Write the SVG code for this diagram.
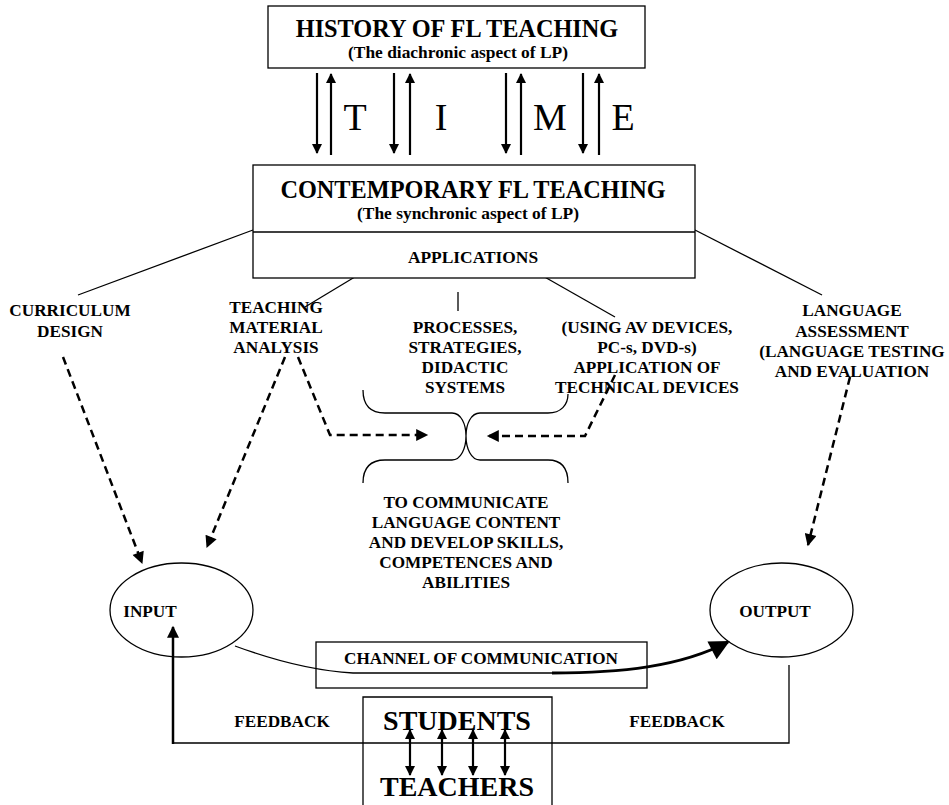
<svg xmlns="http://www.w3.org/2000/svg" width="949" height="805" viewBox="0 0 949 805">
  <style>
    .box { fill: #fff; stroke: #000; stroke-width: 1.3; }
    .line { fill: none; stroke: #000; stroke-width: 1.3; }
    .t { font-family: "Liberation Serif", "Times New Roman", serif; font-weight: bold; fill: #000; text-anchor: middle; }
    .big { font-size: 24.3px; }
    .sub { font-size: 17.4px; }
    .lab { font-size: 17.2px; }
    .huge { font-size: 28px; }
    .time { font-family: "Liberation Serif", "Times New Roman", serif; font-size: 38px; fill: #000; text-anchor: middle; }
    .arr { fill: none; stroke: #000; stroke-width: 2.2; }
    .dash { fill: none; stroke: #000; stroke-width: 2.5; stroke-dasharray: 8 5; }
  </style>
  <defs>
    <marker id="triD" viewBox="0 0 10 10" refX="9" refY="5" markerWidth="14" markerHeight="12" orient="auto" markerUnits="userSpaceOnUse">
      <path d="M0,0 L10,5 L0,10 z" fill="#000"/>
    </marker>
    <marker id="triBig" viewBox="0 0 10 10" refX="9" refY="5" markerWidth="24" markerHeight="20" orient="auto" markerUnits="userSpaceOnUse">
      <path d="M0,0 L10,5 L0,10 z" fill="#000"/>
    </marker>
    <marker id="triM" viewBox="0 0 10 10" refX="9" refY="5" markerWidth="10" markerHeight="10" orient="auto" markerUnits="userSpaceOnUse">
      <path d="M0,0 L10,5 L0,10 z" fill="#000"/>
    </marker>
  </defs>

  <rect width="949" height="805" fill="#fff"/>

  <!-- connectors -->
  <g id="connectors">
    <!-- time arrows between the two main boxes -->
    <g class="arr">
      <line x1="317" y1="73" x2="317" y2="153" marker-end="url(#triM)"/>
      <line x1="331" y1="155" x2="331" y2="74" marker-end="url(#triM)"/>
      <line x1="394" y1="73" x2="394" y2="153" marker-end="url(#triM)"/>
      <line x1="410" y1="155" x2="410" y2="74" marker-end="url(#triM)"/>
      <line x1="506" y1="73" x2="506" y2="153" marker-end="url(#triM)"/>
      <line x1="521" y1="155" x2="521" y2="74" marker-end="url(#triM)"/>
      <line x1="583" y1="73" x2="583" y2="153" marker-end="url(#triM)"/>
      <line x1="599" y1="155" x2="599" y2="74" marker-end="url(#triM)"/>
    </g>

    <!-- branches from the contemporary box -->
    <line class="line" x1="253" y1="230" x2="78" y2="295"/>
    <line class="line" x1="695" y1="230" x2="822" y2="295"/>
    <line class="line" x1="378" y1="263" x2="305" y2="307"/>
    <line class="line" x1="458" y1="292" x2="458" y2="311"/>
    <line class="line" x1="520" y1="263" x2="615" y2="317"/>

    <!-- facing braces -->
    <path class="line" d="M363,390 C363,405 370,413 385,413 L452,413 C461,413 466,424 466,436 C466,424 471,413 480,413 L548,413 C561,413 568,405 568,394"/>
    <path class="line" d="M363,483 C363,468 370,460 385,460 L452,460 C461,460 466,448 466,436 C466,448 471,460 480,460 L548,460 C561,460 568,468 568,483"/>

    <!-- dashed arrows -->
    <path class="dash" d="M298,357 L330,435 L427,435" marker-end="url(#triD)"/>
    <path class="dash" d="M615,375 L585,436 L488,436" marker-end="url(#triD)"/>
    <path class="dash" d="M63,357 L142,563" marker-end="url(#triD)"/>
    <path class="dash" d="M285,357 L207,547" marker-end="url(#triD)"/>
    <path class="dash" d="M850,377 L808,545" marker-end="url(#triD)"/>

    <!-- channel of communication: input to output -->
    <path class="line" d="M235,646 Q300,670 353,673 L552,673"/>
    <path fill="none" stroke="#000" stroke-width="3" d="M552,673 C620,673 680,667 728,642" marker-end="url(#triBig)"/>

    <!-- feedback loop -->
    <path class="line" d="M789,665 L789,743 L173,743"/>
    <line x1="173" y1="744" x2="173" y2="627" stroke="#000" stroke-width="2.5" marker-end="url(#triD)"/>

    <!-- students / teachers exchange -->
    <g class="arr">
      <line x1="410" y1="740" x2="410" y2="730" marker-end="url(#triM)"/>
      <line x1="410" y1="735" x2="410" y2="775" marker-end="url(#triM)"/>
      <line x1="442" y1="740" x2="442" y2="730" marker-end="url(#triM)"/>
      <line x1="442" y1="735" x2="442" y2="775" marker-end="url(#triM)"/>
      <line x1="473" y1="740" x2="473" y2="730" marker-end="url(#triM)"/>
      <line x1="473" y1="735" x2="473" y2="775" marker-end="url(#triM)"/>
      <line x1="505" y1="740" x2="505" y2="730" marker-end="url(#triM)"/>
      <line x1="505" y1="735" x2="505" y2="775" marker-end="url(#triM)"/>
    </g>
  </g>

  <!-- time letters -->
  <g id="time">
    <text class="time" x="355" y="130">T</text>
    <text class="time" x="441" y="130">I</text>
    <text class="time" x="550" y="130">M</text>
    <text class="time" x="623" y="130">E</text>
  </g>

  <g id="history">
    <rect class="box" x="268" y="6" width="377" height="62"/>
    <text class="t big" x="457" y="37">HISTORY OF FL TEACHING</text>
    <text class="t sub" x="458" y="58">(The diachronic aspect of LP)</text>
  </g>

  <g id="contemporary">
    <rect class="box" x="253" y="165" width="442" height="113"/>
    <line class="line" x1="253" y1="232" x2="695" y2="232"/>
    <text class="t big" x="473" y="198">CONTEMPORARY FL TEACHING</text>
    <text class="t sub" x="468" y="219">(The synchronic aspect of LP)</text>
    <text class="t sub" x="473" y="263">APPLICATIONS</text>
  </g>

  <g id="curriculum">
    <text class="t lab" x="70" y="316">CURRICULUM</text>
    <text class="t lab" x="70" y="337">DESIGN</text>
  </g>

  <g id="material">
    <text class="t lab" x="276" y="313">TEACHING</text>
    <text class="t lab" x="276" y="333">MATERIAL</text>
    <text class="t lab" x="276" y="353">ANALYSIS</text>
  </g>

  <g id="processes">
    <text class="t lab" x="465" y="333">PROCESSES,</text>
    <text class="t lab" x="465" y="353">STRATEGIES,</text>
    <text class="t lab" x="465" y="373">DIDACTIC</text>
    <text class="t lab" x="465" y="393">SYSTEMS</text>
  </g>

  <g id="devices">
    <text class="t lab" x="647" y="333">(USING AV DEVICES,</text>
    <text class="t lab" x="647" y="353">PC-s, DVD-s)</text>
    <text class="t lab" x="647" y="373">APPLICATION OF</text>
    <text class="t lab" x="647" y="393">TECHNICAL DEVICES</text>
  </g>

  <g id="assessment">
    <text class="t lab" x="852" y="316">LANGUAGE</text>
    <text class="t lab" x="852" y="337">ASSESSMENT</text>
    <text class="t lab" x="852" y="357">(LANGUAGE TESTING</text>
    <text class="t lab" x="852" y="377">AND EVALUATION</text>
  </g>

  <g id="goal">
    <text class="t lab" x="466" y="508">TO COMMUNICATE</text>
    <text class="t lab" x="466" y="528">LANGUAGE CONTENT</text>
    <text class="t lab" x="466" y="548">AND DEVELOP SKILLS,</text>
    <text class="t lab" x="466" y="568">COMPETENCES AND</text>
    <text class="t lab" x="466" y="588">ABILITIES</text>
  </g>

  <g id="input">
    <ellipse class="line" cx="181.5" cy="610" rx="71.5" ry="47"/>
    <text class="t lab" x="150" y="617">INPUT</text>
  </g>

  <g id="output">
    <ellipse class="line" cx="781.5" cy="610" rx="71.5" ry="47"/>
    <text class="t lab" x="775" y="617">OUTPUT</text>
  </g>

  <g id="channel">
    <rect class="line" x="316" y="642" width="331" height="46"/>
    <text class="t lab" x="481" y="664">CHANNEL OF COMMUNICATION</text>
  </g>

  <g id="feedback-labels">
    <text class="t lab" x="282" y="727">FEEDBACK</text>
    <text class="t lab" x="677" y="727">FEEDBACK</text>
  </g>

  <g id="participants">
    <path class="line" d="M363,810 L363,697 L552,697 L552,810"/>
    <text class="t huge" x="457" y="730">STUDENTS</text>
    <text class="t huge" x="457" y="796">TEACHERS</text>
  </g>
</svg>
